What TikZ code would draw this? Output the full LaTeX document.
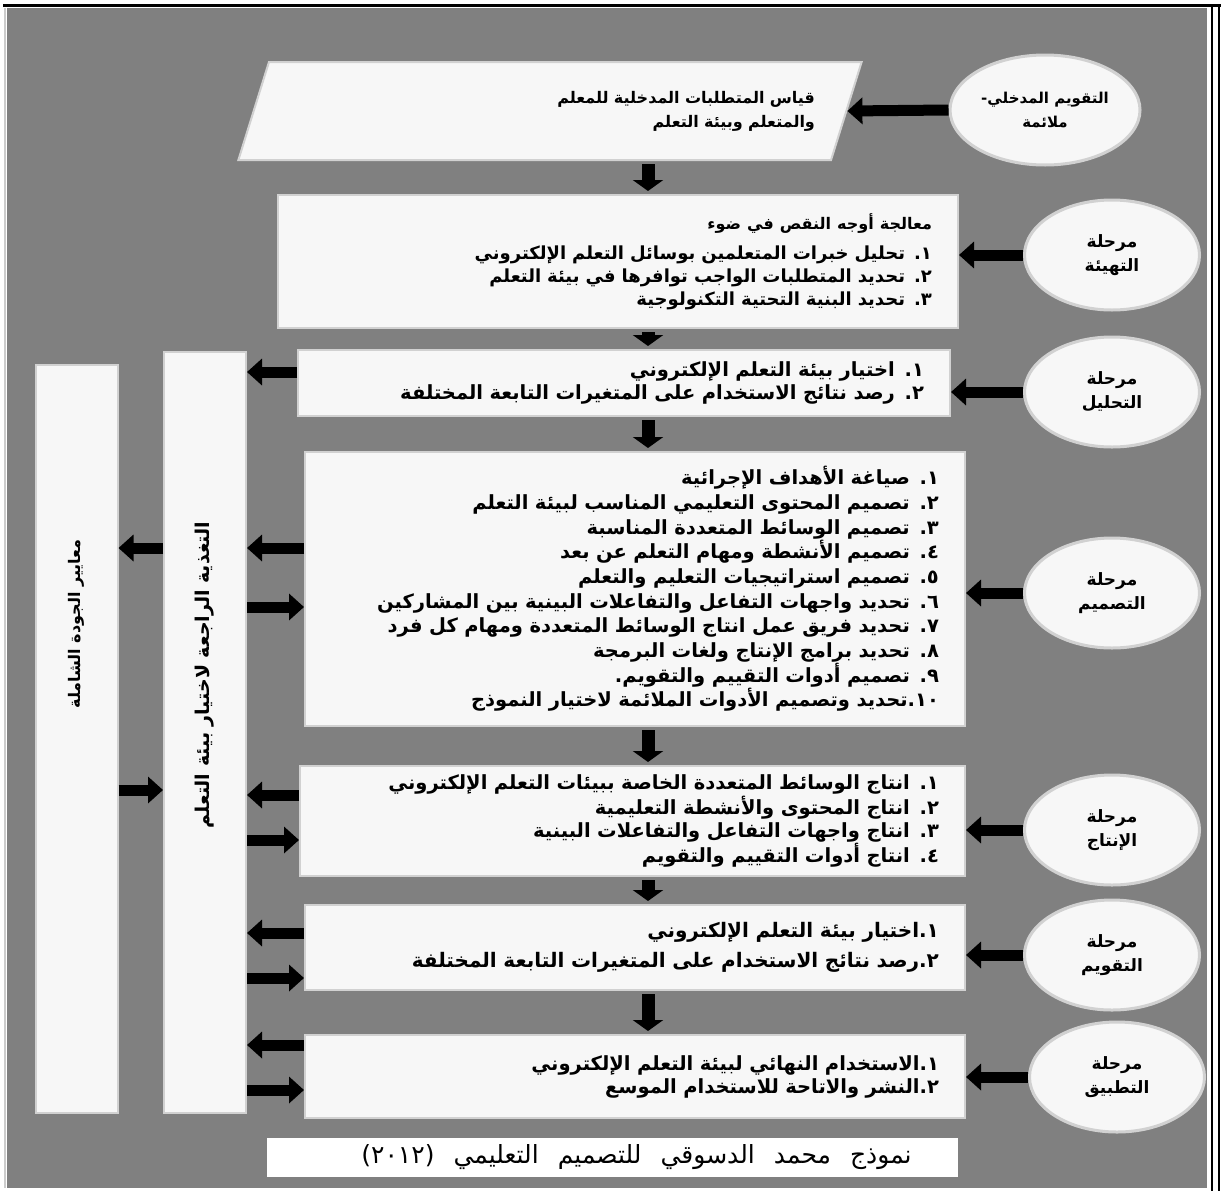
\documentclass[tikz,border=0pt]{standalone}
\usepackage{fontspec}
\newfontfamily\arabicfont[Script=Arabic]{DejaVu Sans}
\TeXXeTstate=1
\usetikzlibrary{arrows.meta,shapes.geometric,shadows}
\newcommand{\rl}[1]{\beginR #1\endR}
\definecolor{bggray}{gray}{0.5}
\definecolor{boxfill}{gray}{0.97}
\definecolor{boxline}{gray}{0.82}
\begin{document}
\begin{tikzpicture}[x=1pt,y=-1pt,
    font=\arabicfont\bfseries\fontsize{19.5}{23}\selectfont,
    stage/.style={ellipse, fill=boxfill, draw=boxline, line width=3pt,
      minimum width=175pt, minimum height=110pt, align=center,
      drop shadow={shadow xshift=2pt, shadow yshift=-3pt, opacity=0.35},
      font=\arabicfont\bfseries\fontsize{17}{24}\selectfont},
    itembox/.style={rectangle, fill=boxfill, draw=boxline, line width=2pt,
      align=right, inner xsep=26pt, inner ysep=0pt,
      drop shadow={shadow xshift=2pt, shadow yshift=-3pt, opacity=0.35}},
    sidebar/.style={rectangle, fill=boxfill, draw=boxline, line width=2pt,
      minimum width=82pt,
      drop shadow={shadow xshift=2pt, shadow yshift=-3pt, opacity=0.35}},
    fat/.style={line width=11pt, -{Triangle[length=15pt,width=26pt]}},
    down/.style={line width=13pt, -{Triangle[length=11pt,width=30pt]},
      shorten <=3pt, shorten >=3pt}]

  \useasboundingbox (0,0) rectangle (1225,1194);
  \fill[bggray] (7,8) rectangle (1207,1188);
  \draw[white!80!black, line width=2pt] (5,8) -- (5,1188);
  \draw[line width=3pt] (3,5) -- (1221,5);
  \draw[line width=2pt] (1212,5) -- (1212,1191);
  \draw[line width=2pt] (1219,5) -- (1219,1191);

  \coordinate (mid) at (648,0);

  % input
  \node[trapezium, trapezium left angle=58, trapezium right angle=122,
    trapezium stretches=true, minimum width=624pt, minimum height=98pt,
    fill=boxfill, draw=boxline, line width=2pt, align=right, text width=530pt,
    drop shadow={shadow xshift=2pt, shadow yshift=-3pt, opacity=0.35},
    font=\arabicfont\bfseries\fontsize{16}{24}\selectfont]
    (input) at (550,111)
    {\rl{قياس المتطلبات المدخلية للمعلم}\\\rl{والمتعلم وبيئة التعلم}};
  \node[stage, minimum width=190pt,
    font=\arabicfont\bfseries\fontsize{15}{24}\selectfont] (inEval) at (1045,110)
    {\rl{التقويم المدخلي-}\\\rl{ملائمة}};

  % stages
  \node[itembox, minimum width=680pt, minimum height=133pt, text width=628pt,
    font=\arabicfont\bfseries\fontsize{18}{23}\selectfont]
    (prepBox) at (618,261.5)
    {{\fontsize{16}{20}\selectfont\rl{معالجة أوجه النقص في ضوء}}\\[7pt]
     \rl{١. تحليل خبرات المتعلمين بوسائل التعلم الإلكتروني}\\
     \rl{٢. تحديد المتطلبات الواجب توافرها في بيئة التعلم}\\
     \rl{٣. تحديد البنية التحتية التكنولوجية}\\[10pt]};
  \node[itembox, minimum width=652pt, minimum height=66pt, text width=600pt]
    (anaBox) at (624,383)
    {\rl{١. اختيار بيئة التعلم الإلكتروني}\\
     \rl{٢. رصد نتائج الاستخدام على المتغيرات التابعة المختلفة}};
  \node[itembox, minimum width=660pt, minimum height=274pt, text width=608pt,
    font=\arabicfont\bfseries\fontsize{19.5}{24.7}\selectfont]
    (desBox) at (635,589)
    {\rl{١. صياغة الأهداف الإجرائية}\\
     \rl{٢. تصميم المحتوى التعليمي المناسب لبيئة التعلم}\\
     \rl{٣. تصميم الوسائط المتعددة المناسبة}\\
     \rl{٤. تصميم الأنشطة ومهام التعلم عن بعد}\\
     \rl{٥. تصميم استراتيجيات التعليم والتعلم}\\
     \rl{٦. تحديد واجهات التفاعل والتفاعلات البينية بين المشاركين}\\
     \rl{٧. تحديد فريق عمل انتاج الوسائط المتعددة ومهام كل فرد}\\
     \rl{٨. تحديد برامج الإنتاج ولغات البرمجة}\\
     \rl{٩. تصميم أدوات التقييم والتقويم.}\\
     \rl{١٠.تحديد وتصميم الأدوات الملائمة لاختيار النموذج}\\[12pt]};
  \node[itembox, minimum width=665pt, minimum height=110pt, text width=613pt]
    (prodBox) at (632.5,821)
    {\rl{١. انتاج الوسائط المتعددة الخاصة ببيئات التعلم الإلكتروني}\\
     \rl{٢. انتاج المحتوى والأنشطة التعليمية}\\
     \rl{٣. انتاج واجهات التفاعل والتفاعلات البينية}\\
     \rl{٤. انتاج أدوات التقييم والتقويم}};
  \node[itembox, minimum width=660pt, minimum height=85pt, text width=608pt,
    font=\arabicfont\bfseries\fontsize{20}{30}\selectfont]
    (evalBox) at (635,947.5)
    {\rl{}\\[-16pt]
     \rl{١.اختيار بيئة التعلم الإلكتروني}\\
     \rl{٢.رصد نتائج الاستخدام على المتغيرات التابعة المختلفة}};
  \node[itembox, minimum width=660pt, minimum height=83pt, text width=608pt]
    (appBox) at (635,1076.5)
    {\rl{١.الاستخدام النهائي لبيئة التعلم الإلكتروني}\\
     \rl{٢.النشر والاتاحة للاستخدام الموسع}\\[22pt]};

  \node[stage] (prep) at (1112,255) {\rl{مرحلة}\\\rl{التهيئة}};
  \node[stage] (ana)  at (1112,392) {\rl{مرحلة}\\\rl{التحليل}};
  \node[stage] (des)  at (1112,593) {\rl{مرحلة}\\\rl{التصميم}};
  \node[stage] (prod) at (1112,830) {\rl{مرحلة}\\\rl{الإنتاج}};
  \node[stage] (eval) at (1112,955) {\rl{مرحلة}\\\rl{التقويم}};
  \node[stage] (app)  at (1117,1077) {\rl{مرحلة}\\\rl{التطبيق}};

  % side bars
  \node[sidebar, minimum height=748pt] (quality) at (76.5,739) {};
  \node[sidebar, minimum height=761pt] (feedback) at (205,732.5) {};
  \node[rotate=90, font=\arabicfont\bfseries\fontsize{16}{18}\selectfont]
    (qualityTxt) at (76,624) {\rl{معايير الجودة الشاملة}};
  \node[rotate=90, font=\arabicfont\bfseries\fontsize{19}{22}\selectfont]
    (feedbackTxt) at (205,675) {\rl{التغذية الراجعة لاختيار بيئة التعلم}};

  \node[rectangle, fill=white, minimum width=691pt, minimum height=39pt,
    font=\arabicfont\fontsize{25}{28}\selectfont]
    (caption) at (612.5,1157.5)
    {\spaceskip=19pt\hspace*{48pt}\rl{نموذج محمد الدسوقي للتصميم التعليمي (٢٠١٢)}};

  % flow
  \draw[down] (input.south -| mid) -- (prepBox.north -| mid);
  \draw[down] (prepBox.south -| mid) -- (anaBox.north -| mid);
  \draw[down] (anaBox.south -| mid) -- (desBox.north -| mid);
  \draw[down] (desBox.south -| mid) -- (prodBox.north -| mid);
  \draw[down] (prodBox.south -| mid) -- (evalBox.north -| mid);
  \draw[down] (evalBox.south -| mid) -- (appBox.north -| mid);

  \draw[fat] (inEval.west) -- (input.east);
  \draw[fat] (prep.west) -- (prep.west -| prepBox.east);
  \draw[fat] (ana.west) -- (ana.west -| anaBox.east);
  \draw[fat] (des.west) -- (des.west -| desBox.east);
  \draw[fat] (prod.west) -- (prod.west -| prodBox.east);
  \draw[fat] (eval.west) -- (eval.west -| evalBox.east);
  \draw[fat] (app.west) -- (app.west -| appBox.east);

  % feedback arrows
  \coordinate (a1) at (0,372);
  \coordinate (a2) at (0,548);
  \coordinate (a3) at (0,607);
  \coordinate (a4) at (0,795);
  \coordinate (a5) at (0,840);
  \coordinate (a6) at (0,933);
  \coordinate (a7) at (0,978);
  \coordinate (a8) at (0,1045);
  \coordinate (a9) at (0,1090);
  \coordinate (q1) at (0,548);
  \coordinate (q2) at (0,790);
  \draw[fat] (anaBox.west |- a1) -- (feedback.east |- a1);
  \draw[fat] (desBox.west |- a2) -- (feedback.east |- a2);
  \draw[fat] (feedback.east |- a3) -- (desBox.west |- a3);
  \draw[fat] (prodBox.west |- a4) -- (feedback.east |- a4);
  \draw[fat] (feedback.east |- a5) -- (prodBox.west |- a5);
  \draw[fat] (evalBox.west |- a6) -- (feedback.east |- a6);
  \draw[fat] (feedback.east |- a7) -- (evalBox.west |- a7);
  \draw[fat] (appBox.west |- a8) -- (feedback.east |- a8);
  \draw[fat] (feedback.east |- a9) -- (appBox.west |- a9);
  \draw[fat] (feedback.west |- q1) -- (quality.east |- q1);
  \draw[fat] (quality.east |- q2) -- (feedback.west |- q2);
\end{tikzpicture}
\end{document}
